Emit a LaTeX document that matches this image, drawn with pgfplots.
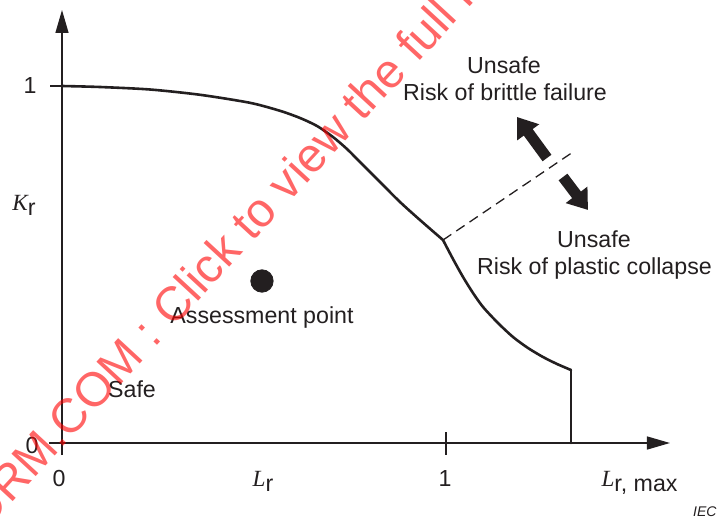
\documentclass[border=0pt]{standalone}
\usepackage{pgfplots}
\pgfplotsset{compat=1.18}
\usepackage{fontspec}
\setmainfont{Liberation Sans}
\newfontfamily\serifit{Liberation Serif}
\usetikzlibrary{arrows.meta}

\definecolor{ink}{RGB}{35,31,32}
\newcommand\lab{\fontsize{11.6pt}{13.9pt}\selectfont}
% italic serif symbol with an upright sans subscript
\newcommand\var[2]{{\serifit\itshape #1}\raisebox{-2.5pt}{#2}}

\begin{document}
\begin{tikzpicture}
\begin{axis}[
  x=192pt, y=178.5pt,
  xmin=-0.034, xmax=1.5833, ymin=-0.034, ymax=1.2129,
  axis lines=middle,
  axis line style={draw=ink, line width=0.7pt},
  x axis line style={-{Triangle[length=11.5pt,width=6.5pt]}},
  y axis line style={-{Triangle[length=11.5pt,width=6.5pt]}},
  xtick={1}, ytick={1}, xticklabels={,,}, yticklabels={,,},
  major tick length=11.5pt, tick align=center,
  tick style={draw=ink, line width=0.7pt},
  clip=false,
]
% failure assessment curve up to Lr = 1
\addplot[ink, line width=1.3pt, line cap=round, smooth, tension=0.45] coordinates {
  (0,1) (0.0990,0.9972) (0.2292,0.9902) (0.3594,0.9754) (0.4896,0.9529)
  (0.5677,0.9305) (0.6198,0.9104) (0.6641,0.8880) (0.7057,0.8571)
  (0.7422,0.8235) (0.7760,0.7871) (0.8281,0.7311) (0.8802,0.6751)
  (0.9323,0.6246) (0.9922,0.5686)
};
% branch beyond Lr = 1 down to the cut-off
\addplot[ink, line width=1.3pt, line cap=round, smooth, tension=0.45] coordinates {
  (0.9922,0.5686) (1.0182,0.5154) (1.0443,0.4650) (1.0703,0.4202)
  (1.0964,0.3810) (1.1354,0.3361) (1.1745,0.2969) (1.2135,0.2661)
  (1.2526,0.2409) (1.2891,0.2213) (1.3255,0.2045)
};
% plastic collapse cut-off at Lr,max
\addplot[ink, line width=1.3pt, line cap=round] coordinates {(1.3255,0.2045) (1.3255,0)};
% boundary between the two unsafe regions
\addplot[ink, line width=0.65pt, dash pattern=on 5pt off 3pt] coordinates {(0.9922,0.5686) (1.3307,0.8151)};
% assessment point
\addplot[only marks, mark=*, mark size=5.6pt, ink] coordinates {(0.5208,0.4538)};

% direction arrows
\draw[ink, line width=5.5pt, -{Triangle[length=9.5pt,width=13pt]}] (axis cs:1.2630,0.7983) -- (axis cs:1.1849,0.9132);
\draw[ink, line width=5.5pt, -{Triangle[length=9.5pt,width=13pt]}] (axis cs:1.3047,0.7451) -- (axis cs:1.3698,0.6527);

% tick labels and axis names
\begin{scope}[every node/.style={text=ink, font=\lab, anchor=base, inner sep=0pt}]
\node at (axis cs:-0.0833,0.9776) {1};
\node at (axis cs:-0.0781,-0.028) {0};
\node at (axis cs:-0.0078,-0.1232) {0};
\node at (axis cs:0.9974,-0.1232) {1};
\node at (axis cs:0.5234,-0.1232) {\var{L}{r}};
\node at (axis cs:1.504,-0.1232) {\var{L}{r, max}};
\node at (axis cs:-0.099,0.6499) {\var{K}{r}};
\node at (axis cs:1.151,1.0364) {Unsafe};
\node at (axis cs:1.1536,0.958) {Risk of brittle failure};
\node at (axis cs:1.3854,0.549) {Unsafe};
\node at (axis cs:1.3867,0.4734) {Risk of plastic collapse};
\node at (axis cs:0.5208,0.3361) {Assessment point};
\node at (axis cs:0.1823,0.1261) {Safe};
\node[font=\fontsize{7pt}{8pt}\selectfont\itshape] at (axis cs:1.674,-0.2059) {IEC};
\end{scope}

% distribution stamp across the figure
\node[anchor=base west, rotate=47.3, inner sep=0pt, text=red, text opacity=0.6,
      font=\fontsize{24pt}{28pt}\selectfont]
  at (axis cs:-0.3802,-0.4594) {ECNORM.COM : Click to view the full PDF of IEC};

\coordinate (bl) at (axis cs:-0.16146,-0.21569);
\coordinate (tr) at (axis cs:1.71615,1.24090);
\end{axis}
\pgfresetboundingbox
\path[use as bounding box] (bl) rectangle (tr);
\end{tikzpicture}
\end{document}
